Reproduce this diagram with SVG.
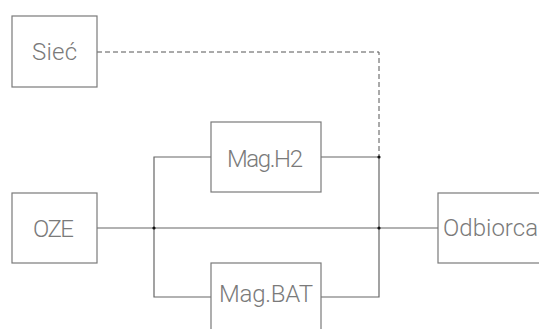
<svg xmlns="http://www.w3.org/2000/svg" width="539" height="329" viewBox="0 0 539 329">
  <style>
    .box { fill: #ffffff; stroke: #7a7a7a; stroke-width: 1.2; }
    .wire { fill: none; stroke: #666666; stroke-width: 1.2; }
    .dash { fill: none; stroke: #555555; stroke-width: 1; stroke-dasharray: 5 3; }
    .lbl { font-family: Roboto, "DejaVu Sans Condensed", sans-serif; font-weight: 300; font-size: 24px; fill: #7a7a7a; }
    .dot { fill: #111111; }
  </style>
  <rect width="539" height="329" fill="#ffffff"/>

  <g id="connectors">
    <path class="dash" d="M97 52 H379 V157"/>
    <path class="wire" d="M97 228 H438"/>
    <path class="wire" d="M211 157 H154 V297 H211"/>
    <path class="wire" d="M321 157 H379 V297 H321"/>
    <circle class="dot" cx="154" cy="228" r="1.6"/>
    <circle class="dot" cx="379" cy="228" r="1.6"/>
    <circle class="dot" cx="379" cy="157" r="1.6"/>
  </g>

  <g id="siec">
    <rect class="box" x="12" y="16" width="85" height="71"/>
    <text class="lbl" x="32" y="60" textLength="45" lengthAdjust="spacing">Sieć</text>
  </g>
  <g id="oze">
    <rect class="box" x="12" y="193" width="85" height="70"/>
    <text class="lbl" x="33" y="237" textLength="41" lengthAdjust="spacing">OZE</text>
  </g>
  <g id="mag-h2">
    <rect class="box" x="211" y="122" width="110" height="70"/>
    <text class="lbl" x="227" y="167" textLength="76" lengthAdjust="spacing">Mag.H2</text>
  </g>
  <g id="mag-bat">
    <rect class="box" x="211" y="263" width="110" height="80"/>
    <text class="lbl" x="219" y="302" textLength="94" lengthAdjust="spacing">Mag.BAT</text>
  </g>
  <g id="odbiorca">
    <rect class="box" x="438" y="193" width="120" height="70"/>
    <text class="lbl" x="443" y="236" textLength="95" lengthAdjust="spacing">Odbiorca</text>
  </g>
</svg>
